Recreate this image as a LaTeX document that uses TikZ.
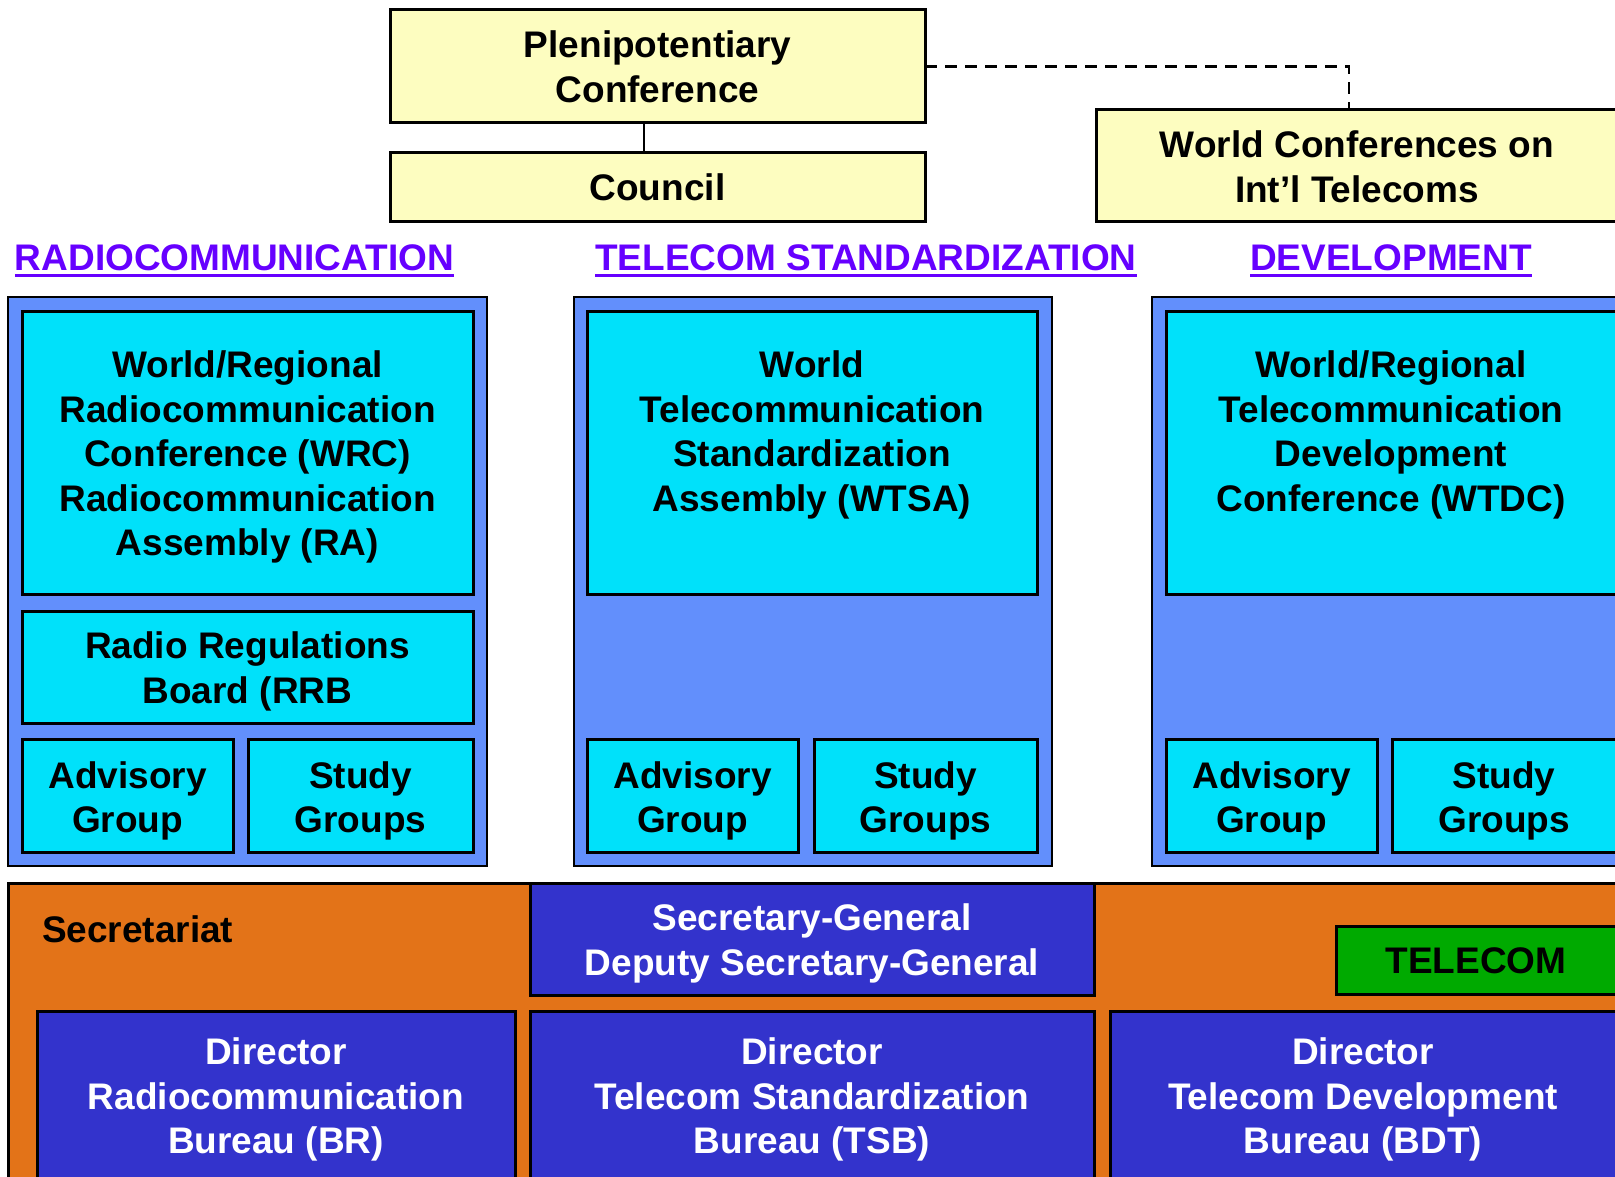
\documentclass[tikz,border=0pt]{standalone}
\usepackage{fontspec}
\setmainfont{Liberation Sans}
\definecolor{pyellow}{HTML}{FDFDC0}
\definecolor{pblue}{HTML}{628FFC}
\definecolor{pcyan}{HTML}{00E1FA}
\definecolor{ppurple}{HTML}{6600FF}
\definecolor{porange}{HTML}{E37318}
\definecolor{pdark}{HTML}{3333CC}
\definecolor{pgreen}{HTML}{00AA00}
\newcommand{\mlines}[1]{\begin{tabular}[t]{@{}c@{}}#1\end{tabular}}
\tikzset{
  boxbase/.style={draw=black, line width=3pt, inner sep=0pt, outer sep=0pt},
  ybox/.style={boxbase, fill=pyellow},
  bbox/.style={boxbase, line width=2.2pt, fill=pblue},
  cbox/.style={boxbase, fill=pcyan},
  obox/.style={boxbase, fill=porange},
  dbox/.style={boxbase, fill=pdark},
  gbox/.style={boxbase, fill=pgreen},
  txt/.style={inner sep=0pt, outer sep=0pt, anchor=base, text=black, font=\fontsize{37}{44.5}\selectfont\bfseries},
  wtxt/.style={txt, text=white},
  head/.style={txt, text=ppurple},
  uline/.style={draw=ppurple, line width=3.7pt},
  dashline/.style={draw=black, line width=2.5pt, dash pattern=on 12pt off 8pt},
  conn/.style={draw=black, line width=2.8pt}
}
\begin{document}
\begin{tikzpicture}[x=1pt,y=-1pt]
\useasboundingbox (0,0) rectangle (1615,1177);
\clip (0,0) rectangle (1615,1177);
% top
\node[ybox, minimum width=535pt, minimum height=113pt] (plen) at (657.5,66.5) {};
\node[ybox, minimum width=535pt, minimum height=69pt] (council) at (657.5,187.5) {};
\node[ybox, minimum width=522pt, minimum height=112pt] (wcit) at (1357,166) {};
\node[txt] (plent) at (657.5,58) {\mlines{Plenipotentiary\\Conference}};
\node[txt] (councilt) at (657.5,201) {Council};
\node[txt] (wcitt) at (1357,158) {\mlines{World Conferences on\\Int’l Telecoms}};
\coordinate (cx) at (644,0);
\coordinate (dk) at (1349,0);
\draw[conn] (plen.south -| cx) -- (council.north -| cx);
\draw[dashline] (plen.east) -| (wcit.north -| dk);
% headers
\node[head] (h1) at (234.5,270) {RADIOCOMMUNICATION};
\node[head] (h2) at (866,270) {TELECOM STANDARDIZATION};
\node[head] (h3) at (1391,270) {DEVELOPMENT};
\draw[uline] ([yshift=-5.5pt]h1.base west) -- ([yshift=-5.5pt]h1.base east);
\draw[uline] ([yshift=-5.5pt]h2.base west) -- ([yshift=-5.5pt]h2.base east);
\draw[uline] ([yshift=-5.5pt]h3.base west) -- ([yshift=-5.5pt]h3.base east);
% sector boxes
\node[bbox, minimum width=479pt, minimum height=569pt] (outR) at (247.5,581.5) {};
\node[bbox, minimum width=478pt, minimum height=569pt] (outT) at (813,581.5) {};
\node[bbox, minimum width=478pt, minimum height=569pt] (outD) at (1391,581.5) {};
\node[cbox, minimum width=451pt, minimum height=283pt] (topR) at (247.5,452.5) {};
\node[cbox, minimum width=450pt, minimum height=283pt] (topT) at (812,452.5) {};
\node[cbox, minimum width=450pt, minimum height=283pt] (topD) at (1391,452.5) {};
\node[txt] (topRt) at (247.5,377.5) {\mlines{World/Regional\\Radiocommunication\\Conference (WRC)\\Radiocommunication\\Assembly (RA)}};
\node[txt] (topTt) at (812,377.5) {\mlines{World\\Telecommunication\\Standardization\\Assembly (WTSA)}};
\node[txt] (topDt) at (1391,377.5) {\mlines{World/Regional\\Telecommunication\\Development\\Conference (WTDC)}};
\node[cbox, minimum width=451pt, minimum height=112pt] (rrb) at (247.5,667) {};
\node[txt] (rrbt) at (247.5,658.5) {\mlines{Radio Regulations\\Board (RRB}};
\node[cbox, minimum width=211pt, minimum height=113pt] (advR) at (127.5,795.5) {};
\node[cbox, minimum width=225pt, minimum height=113pt] (stdR) at (360.5,795.5) {};
\node[cbox, minimum width=211pt, minimum height=113pt] (advT) at (692.5,795.5) {};
\node[cbox, minimum width=223pt, minimum height=113pt] (stdT) at (925.5,795.5) {};
\node[cbox, minimum width=211pt, minimum height=113pt] (advD) at (1271.5,795.5) {};
\node[cbox, minimum width=224pt, minimum height=113pt] (stdD) at (1504,795.5) {};
\node[txt] (advRt) at (advR |- 0,788) {\mlines{Advisory\\Group}};
\node[txt] (stdRt) at (stdR |- 0,788) {\mlines{Study\\Groups}};
\node[txt] (advTt) at (advT |- 0,788) {\mlines{Advisory\\Group}};
\node[txt] (stdTt) at (stdT |- 0,788) {\mlines{Study\\Groups}};
\node[txt] (advDt) at (advD |- 0,788) {\mlines{Advisory\\Group}};
\node[txt] (stdDt) at (stdD |- 0,788) {\mlines{Study\\Groups}};
% secretariat
\node[obox, minimum width=1622pt, minimum height=307pt] (sec) at (819,1036.5) {};
\node[txt, anchor=base west] (sect) at (42,942) {Secretariat};
\node[dbox, minimum width=564pt, minimum height=112pt] (sg) at (812,939) {};
\node[wtxt] (sgt) at (812,930.5) {\mlines{Secretary-General\\Deputy Secretary-General}};
\node[gbox, minimum width=280pt, minimum height=68pt] (tel) at (1476,960) {};
\node[txt] (telt) at (1476,973) {TELECOM};
\node[dbox, minimum width=478pt, minimum height=179pt] (dirR) at (276,1100.5) {};
\node[dbox, minimum width=564pt, minimum height=179pt] (dirT) at (812,1100.5) {};
\node[dbox, minimum width=506pt, minimum height=179pt] (dirD) at (1363,1100.5) {};
\node[wtxt] (dirRt) at (276,1064.5) {\mlines{Director\\Radiocommunication\\Bureau (BR)}};
\node[wtxt] (dirTt) at (812,1064.5) {\mlines{Director\\Telecom Standardization\\Bureau (TSB)}};
\node[wtxt] (dirDt) at (1363,1064.5) {\mlines{Director\\Telecom Development\\Bureau (BDT)}};
\end{tikzpicture}
\end{document}
